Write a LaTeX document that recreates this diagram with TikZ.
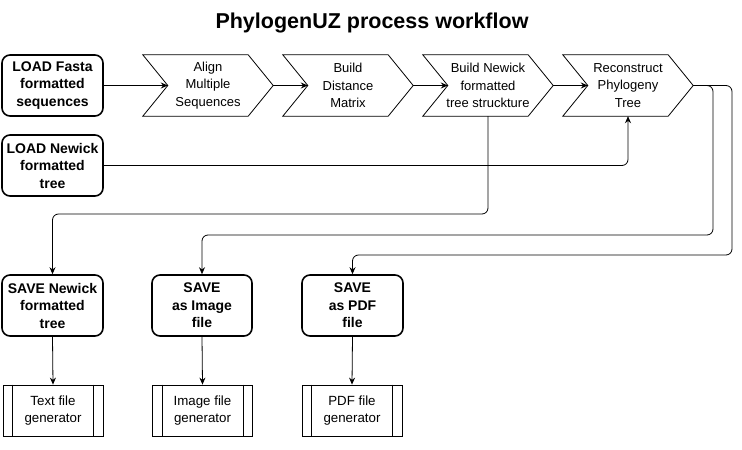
\documentclass[tikz,border=0pt]{standalone}
\usepackage{fontspec}
\setmainfont{Liberation Sans}
\usetikzlibrary{arrows.meta}
\begin{document}
\begin{tikzpicture}[x=1pt,y=-1pt,
  rbox/.style={draw, line width=1.6pt, rounded corners=8pt, minimum width=101pt, minimum height=61pt, align=center, inner sep=0pt, font=\bfseries\fontsize{14}{17.5}\selectfont},
  chev/.style={minimum width=130pt, minimum height=61pt, align=center, inner sep=0pt, font=\fontsize{13}{17.5}\selectfont},
  chevline/.style={draw, line width=0.8pt, line join=miter},
  gen/.style={draw, line width=0.8pt, minimum width=100pt, minimum height=51pt, align=center, inner sep=0pt, font=\fontsize{13.3}{17}\selectfont},
  conn/.style={draw, line width=0.8pt, -{Stealth[length=7pt,width=6pt]}, rounded corners=6pt}
]
\useasboundingbox (0,0) rectangle (742,450);
\node (title) at (372,23) {\bfseries\fontsize{21.5}{26}\selectfont PhylogenUZ process workflow};

\node[rbox] (fasta) at (52.5,85.5) {LOAD Fasta\\formatted\\sequences};
\node[rbox] (loadnw) at (52.5,165.5) {LOAD Newick\\formatted\\tree};

\node[chev] (align) at (208,85.5) {Align\\Multiple\\Sequences};
\node[chev] (dist) at (348,85.5) {Build\\Distance\\Matrix};
\node[chev] (newick) at (488,85.5) {Build Newick\\formatted\\tree struckture};
\node[chev] (recon) at (628,85.5) {Reconstruct\\Phylogeny\\Tree};
\foreach \c in {align,dist,newick,recon}{
  \draw[chevline] (\c.north west) -- ([xshift=-25pt]\c.north east) -- (\c.east) -- ([xshift=-25pt]\c.south east) -- (\c.south west) -- ([xshift=25pt]\c.west) -- cycle;
}

\node[rbox] (savenw) at (52.5,305.5) {SAVE Newick\\formatted\\tree};
\node[rbox, minimum width=100pt] (saveimg) at (202,305.5) {SAVE\\as Image\\file};
\node[rbox] (savepdf) at (352.5,305.5) {SAVE\\as PDF\\file};

\node[gen] (gentxt) at (53,410.5) {Text file\\generator};
\node[gen] (genimg) at (202.5,410.5) {Image file\\generator};
\node[gen] (genpdf) at (352,410.5) {PDF file\\generator};
\foreach \g in {gentxt,genimg,genpdf}{
  \draw[line width=0.8pt] ([xshift=10pt]\g.north west) -- ([xshift=10pt]\g.south west);
  \draw[line width=0.8pt] ([xshift=-10pt]\g.north east) -- ([xshift=-10pt]\g.south east);
}

\coordinate (b1) at (0,214);
\coordinate (b2) at (713,235);
\coordinate (b3) at (732,255);

\draw[conn] (fasta.east) -- ([xshift=25pt]align.west);
\draw[conn] (align.east) -- ([xshift=25pt]dist.west);
\draw[conn] (dist.east) -- ([xshift=25pt]newick.west);
\draw[conn] (newick.east) -- ([xshift=25pt]recon.west);
\draw[conn] (loadnw.east) -| (recon.south);
\draw[conn] (newick.south) -- (newick.south |- b1) -| (savenw.north);
\draw[conn] (recon.east) -| (b2) -| (saveimg.north);
\draw[conn] (recon.east) -| (b3) -| (savepdf.north);

\draw[conn] (savenw.south) -- (gentxt.north);
\draw[conn] (saveimg.south) -- (genimg.north);
\draw[conn] (savepdf.south) -- (genpdf.north);
\end{tikzpicture}
\end{document}
